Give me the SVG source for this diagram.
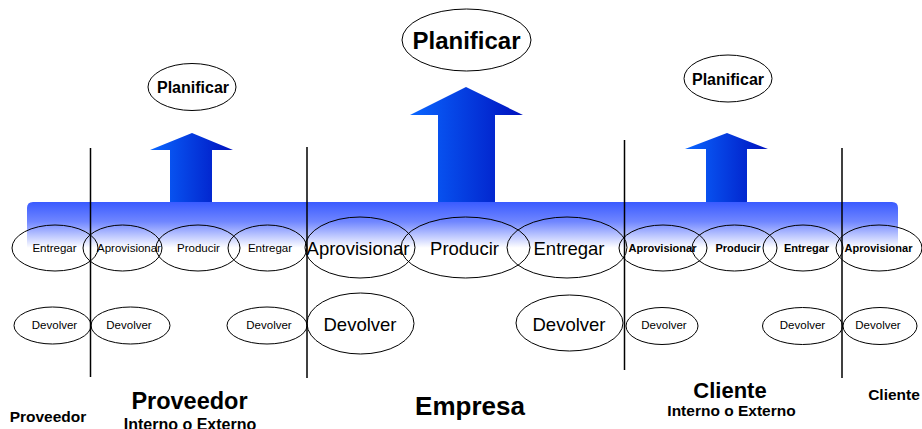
<svg xmlns="http://www.w3.org/2000/svg" width="922" height="429" viewBox="0 0 922 429">
<defs>
<linearGradient id="band" x1="0" y1="0" x2="0" y2="1">
<stop offset="0" stop-color="#3a5bff"/>
<stop offset="0.35" stop-color="#7086ff"/>
<stop offset="0.82" stop-color="#ffffff"/>
<stop offset="1" stop-color="#ffffff"/>
</linearGradient>
<linearGradient id="arr" x1="0" y1="0" x2="1" y2="0">
<stop offset="0" stop-color="#0a66ff"/>
<stop offset="1" stop-color="#0012bf"/>
</linearGradient>
<style>
.e{fill:none;stroke:#000;stroke-width:1}
.t{font-family:"Liberation Sans",Arial,sans-serif;fill:#000;text-anchor:middle}
.s{font-size:11.5px}
.sb{font-size:11px;font-weight:bold}
.m{font-size:18.5px}
.pl{font-size:16px;font-weight:bold}
.b{font-weight:bold}
.ln{stroke:#000;stroke-width:1.5}
</style>
</defs>
<path d="M27 258 V208 Q27 202 33 202 H892 Q898 202 898 208 V258 Z" fill="url(#band)"/>
<g id="arrows">
<path d="M192 133 L233 150 L212 150 L212 202 L170 202 L170 150 L150 150 Z" fill="url(#arr)"/>
<path d="M466 87 L523 115 L495 115 L495 202 L438 202 L438 115 L410 115 Z" fill="url(#arr)"/>
<path d="M727 133 L768 149 L747 149 L747 202 L706 202 L706 149 L685 149 Z" fill="url(#arr)"/>
</g>
<g id="plan1"><ellipse class="e" cx="192" cy="87" rx="44" ry="23.5"/><text class="t pl" x="193" y="93">Planificar</text></g>
<g id="plan2"><ellipse class="e" cx="466.5" cy="40" rx="64.5" ry="31"/><text class="t b" style="font-size:24px" x="466.5" y="49">Planificar</text></g>
<g id="plan3"><ellipse class="e" cx="728" cy="78.5" rx="44" ry="23.5"/><text class="t pl" x="728" y="85">Planificar</text></g>
<g id="r1"><ellipse class="e" cx="55" cy="248" rx="43" ry="23"/><text class="t s" x="54.5" y="252">Entregar</text></g>
<g id="r2"><ellipse class="e" cx="122.5" cy="248" rx="39.5" ry="23"/><text class="t s" x="129" y="252">Aprovisionar</text></g>
<g id="r3"><ellipse class="e" cx="198" cy="248" rx="42" ry="23"/><text class="t s" x="198.5" y="252">Producir</text></g>
<g id="r4"><ellipse class="e" cx="267.5" cy="248" rx="39.5" ry="23"/><text class="t s" x="270" y="252">Entregar</text></g>
<g id="r5"><ellipse class="e" cx="360" cy="247.5" rx="55" ry="30.5"/><text class="t m" x="358" y="255">Aprovisionar</text></g>
<g id="r6"><ellipse class="e" cx="465.5" cy="247.5" rx="64.5" ry="30.5"/><text class="t m" x="464.5" y="255">Producir</text></g>
<g id="r7"><ellipse class="e" cx="567" cy="247.5" rx="60" ry="30.5"/><text class="t m" x="569" y="255">Entregar</text></g>
<g id="r8"><ellipse class="e" cx="663" cy="248" rx="44" ry="23"/><text class="t sb" x="662.5" y="252">Aprovisionar</text></g>
<g id="r9"><ellipse class="e" cx="734.5" cy="248" rx="42.5" ry="23"/><text class="t sb" x="738" y="252">Producir</text></g>
<g id="r10"><ellipse class="e" cx="803" cy="248" rx="40" ry="23"/><text class="t sb" x="806.5" y="252">Entregar</text></g>
<g id="r11"><ellipse class="e" cx="879" cy="248" rx="43" ry="23"/><text class="t sb" x="878.5" y="252">Aprovisionar</text></g>
<g id="d1"><ellipse class="e" cx="52.5" cy="325.5" rx="38.5" ry="18.5"/><text class="t s" x="54.5" y="329">Devolver</text></g>
<g id="d2"><ellipse class="e" cx="130.5" cy="325.5" rx="39.5" ry="18.5"/><text class="t s" x="129" y="329">Devolver</text></g>
<g id="d3"><ellipse class="e" cx="267" cy="325.5" rx="40" ry="18.5"/><text class="t s" x="269" y="329">Devolver</text></g>
<g id="d4"><ellipse class="e" cx="360.5" cy="323.5" rx="53.5" ry="30.5"/><text class="t m" x="360" y="331">Devolver</text></g>
<g id="d5"><ellipse class="e" cx="569.5" cy="323" rx="53.5" ry="28"/><text class="t m" x="569" y="331">Devolver</text></g>
<g id="d6"><ellipse class="e" cx="662" cy="326" rx="36" ry="18.5"/><text class="t s" x="664" y="329">Devolver</text></g>
<g id="d7"><ellipse class="e" cx="802.5" cy="326" rx="40" ry="18.5"/><text class="t s" x="802.5" y="329">Devolver</text></g>
<g id="d8"><ellipse class="e" cx="880" cy="326" rx="37" ry="18.5"/><text class="t s" x="878" y="329">Devolver</text></g>
<g id="connectors">
<line class="ln" x1="90.5" y1="148" x2="90.5" y2="377"/>
<line class="ln" x1="307" y1="147" x2="307" y2="378"/>
<line class="ln" x1="624.5" y1="140" x2="624.5" y2="370"/>
<line class="ln" x1="842" y1="148" x2="842" y2="378"/>
</g>
<g id="labels">
<text class="t b" style="font-size:15.5px" x="48" y="422">Proveedor</text>
<text class="t b" style="font-size:23.5px" x="189.5" y="409">Proveedor</text>
<text class="t b" style="font-size:16px" x="190" y="430">Interno o Externo</text>
<text class="t b" style="font-size:26px" x="470" y="415">Empresa</text>
<text class="t b" style="font-size:22px" x="730" y="398">Cliente</text>
<text class="t b" style="font-size:15.5px" x="731.5" y="416">Interno o Externo</text>
<text class="t b" style="font-size:15.5px" x="894" y="400">Cliente</text>
</g>
</svg>
